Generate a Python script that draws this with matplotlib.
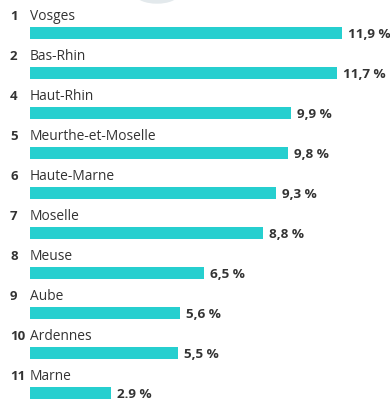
import matplotlib
matplotlib.use("Agg")
import matplotlib.pyplot as plt
from matplotlib.patches import Ellipse

# Departements, rank and share (%)
ranks = [1, 2, 4, 5, 6, 7, 8, 9, 10, 11]
names = ["Vosges", "Bas-Rhin", "Haut-Rhin", "Meurthe-et-Moselle", "Haute-Marne",
         "Moselle", "Meuse", "Aube", "Ardennes", "Marne"]
values = [11.9, 11.7, 9.9, 9.8, 9.3, 8.8, 6.5, 5.6, 5.5, 2.9]
value_labels = ["11,9 %", "11,7 %", "9,9 %", "9,8 %", "9,3 %",
                "8,8 %", "6,5 %", "5,6 %", "5,5 %", "2.9 %"]

W, H = 390, 399
px_per_unit = 25.7   # horizontal pixels per percentage point
zero_px = 36.5       # where the value 0 sits
bar_pad_px = 6.5     # bars stick out a little to the left of zero
row_px = 40          # spacing between rows
first_bar_px = 33    # centre of the first bar

bar_color = "#26cfcf"
text_color = "#333333"

fig = plt.figure(figsize=(W / 100, H / 100), dpi=100)
ax = fig.add_axes([0, 0, 1, 1])
ax.set_xlim(-zero_px / px_per_unit, (W - zero_px) / px_per_unit)
ax.set_ylim((H - first_bar_px) / row_px, -first_bar_px / row_px)
ax.axis("off")

pad = bar_pad_px / px_per_unit
rows = list(range(len(values)))
ax.barh(rows, [v + pad for v in values], height=12 / row_px, color=bar_color, left=-pad)

for i in rows:
    ax.text(-pad - 20 / px_per_unit, i - 17 / row_px, str(ranks[i]), fontsize=9.5,
            fontweight="bold", color=text_color, ha="left", va="center",
            family="Open Sans")
    ax.text(-pad, i - 17 / row_px, names[i], fontsize=9.9, color=text_color,
            ha="left", va="center", family="Open Sans")
    ax.text(values[i] + 6 / px_per_unit, i + 2 / row_px, value_labels[i],
            fontsize=9.7, fontweight="bold", color=text_color, ha="left",
            va="center", family="Open Sans")

# faint grey circle peeking in at the top
fig.patches.append(Ellipse((157 / W, 1 - (-6) / H), 42 / W, 18 / H,
                           transform=fig.transFigure, color="#e3e9ec", zorder=0))

fig.savefig("out.png", dpi=100)
